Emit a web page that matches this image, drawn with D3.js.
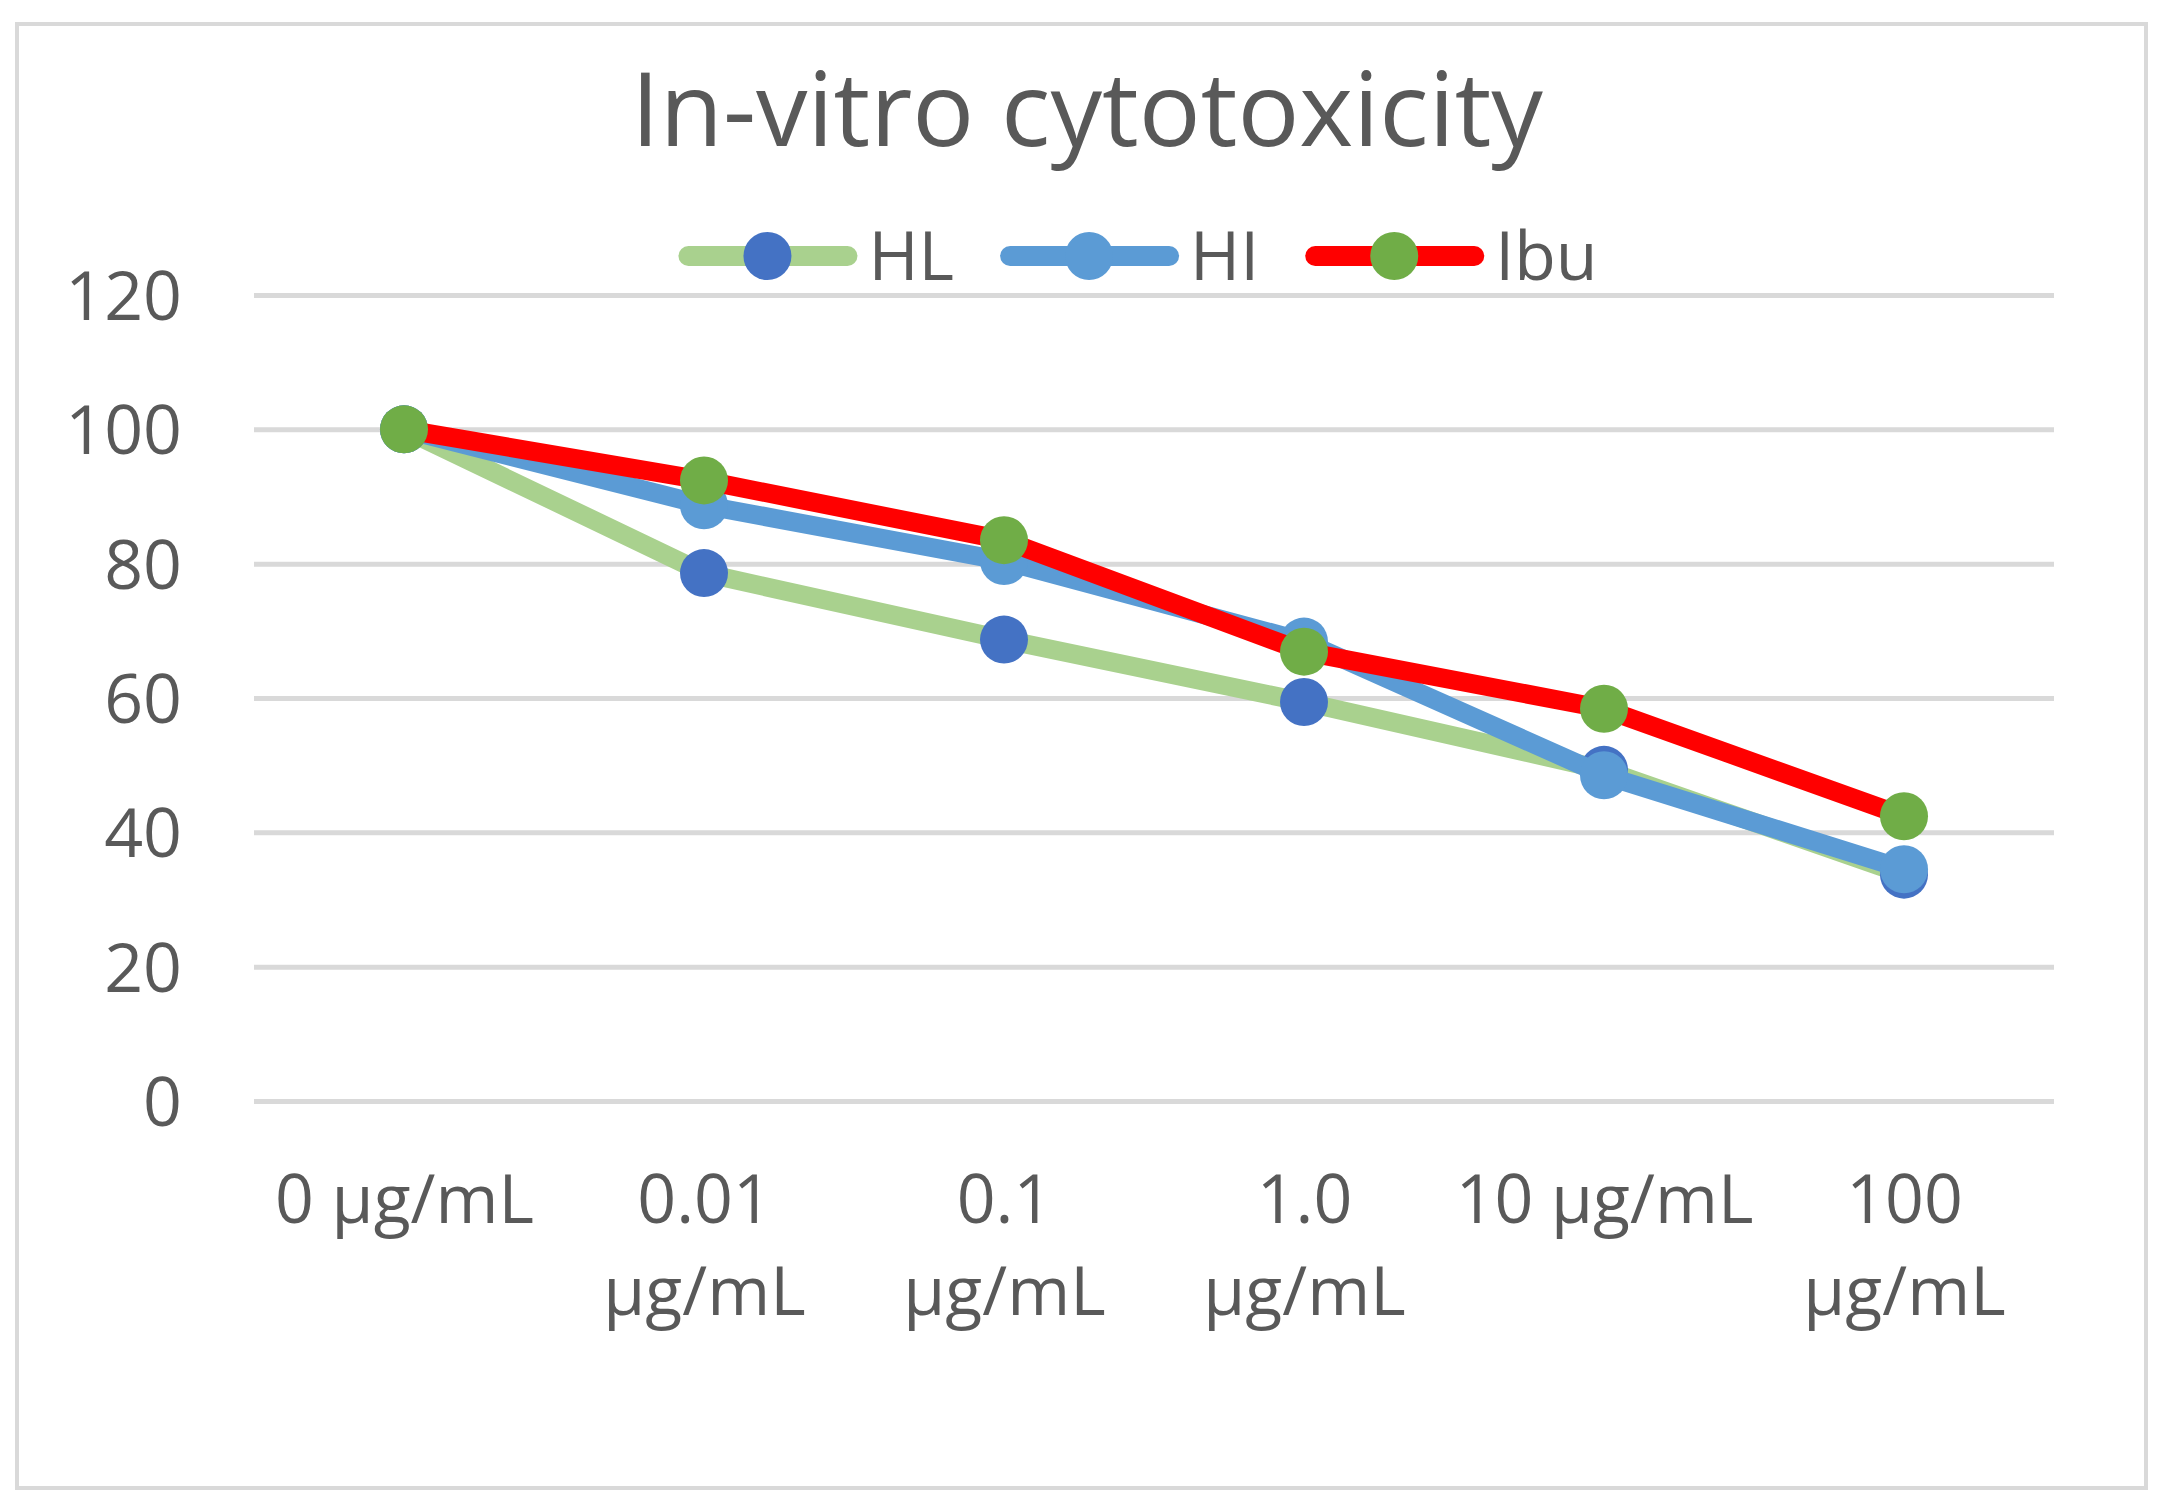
<!DOCTYPE html>
<html>
<head>
<meta charset="utf-8">
<script src="https://cdn.jsdelivr.net/npm/d3@7"></script>
<style>
  body { margin: 0; background: #fff; }
  text { font-family: "Open Sans", "Noto Sans", sans-serif; fill: #595959; }
</style>
</head>
<body>
<svg></svg>
<script>
var width = 2166
var height = 1507

// data
var categories = ["0 µg/mL", "0.01 µg/mL", "0.1 µg/mL", "1.0 µg/mL", "10 µg/mL", "100 µg/mL"]
var categoryLines = [["0 µg/mL"], ["0.01", "µg/mL"], ["0.1", "µg/mL"], ["1.0", "µg/mL"], ["10 µg/mL"], ["100", "µg/mL"]]
var hlValues = [100, 78.6, 68.7, 59.4, 49.3, 33.7]
var hiValues = [100, 88.7, 80.4, 68.4, 48.5, 34.5]
var ibuValues = [100, 92.4, 83.5, 66.9, 58.4, 42.4]
var yTicks = [0, 20, 40, 60, 80, 100, 120]

var series = [
  { name: "HL", values: hlValues, line: "#A9D18E", marker: "#4472C4" },
  { name: "HI", values: hiValues, line: "#5B9BD5", marker: "#5B9BD5" },
  { name: "Ibu", values: ibuValues, line: "#FF0000", marker: "#70AD47" }
]

var plotLeft = 254, plotRight = 2054, plotTop = 295, plotBottom = 1101
var lineW = 19
var r = 24

var svg = d3.select("svg")
  .attr("width", width)
  .attr("height", height)

svg.append("rect")
  .attr("x", 17).attr("y", 24)
  .attr("width", 2129).attr("height", 1464)
  .attr("fill", "#fff")
  .attr("stroke", "#d9d9d9")
  .attr("stroke-width", 4)

var x = d3.scalePoint()
  .domain(categories)
  .range([plotLeft, plotRight])
  .padding(0.5)

var y = d3.scaleLinear()
  .domain([0, 120])
  .range([plotBottom, plotTop])

// gridlines + y labels
var yAxis = d3.axisLeft(y)
  .tickValues(yTicks)
  .tickSize(-(plotRight - plotLeft))
  .tickPadding(72)

var gy = svg.append("g")
  .attr("transform", "translate(" + plotLeft + ",0)")
  .call(yAxis)
gy.select(".domain").remove()
gy.selectAll(".tick line")
  .attr("stroke", "#d9d9d9")
  .attr("stroke-width", 5)
gy.selectAll(".tick text")
  .attr("font-size", 68)
  .attr("dy", "0.36em")
  .style("fill", "#595959")
  .style("font-family", '"Open Sans", sans-serif')

// x labels
var xAxis = d3.axisBottom(x).tickSize(0).tickFormat("")
var gx = svg.append("g")
  .attr("transform", "translate(0," + plotBottom + ")")
  .call(xAxis)
gx.select(".domain").remove()
gx.selectAll(".tick").each(function (d, i) {
  var t = d3.select(this).append("text")
    .attr("text-anchor", "middle")
    .attr("font-size", 68)
    .style("fill", "#595959")
  t.selectAll("tspan")
    .data(categoryLines[i])
    .enter()
      .append("tspan")
      .attr("x", 0)
      .attr("y", (s, j) => 122 + j * 92)
      .text(s => s)
})

// series, drawn one after the other (line then markers)
var line = d3.line()
  .x((d, i) => x(categories[i]))
  .y(d => y(d))

series.forEach(s => {
  var g = svg.append("g")
  g.append("path")
    .datum(s.values)
    .attr("d", line)
    .attr("fill", "none")
    .attr("stroke", s.line)
    .attr("stroke-width", lineW)
    .attr("stroke-linejoin", "round")
    .attr("stroke-linecap", "round")
  g.selectAll("circle")
    .data(s.values)
    .enter()
      .append("circle")
      .attr("cx", (d, i) => x(categories[i]))
      .attr("cy", d => y(d))
      .attr("r", r)
      .attr("fill", s.marker)
})

// title
svg.append("text")
  .attr("x", 1087)
  .attr("y", 146)
  .attr("text-anchor", "middle")
  .attr("font-size", 103)
  .text("In-vitro cytotoxicity")

// legend
var legend = svg.append("g")
var legY = 256
var lx = 0
series.forEach(s => {
  var item = legend.append("g").attr("transform", "translate(" + lx + ",0)")
  item.append("line")
    .attr("x1", 10).attr("x2", 169)
    .attr("y1", legY).attr("y2", legY)
    .attr("stroke", s.line)
    .attr("stroke-width", 20)
    .attr("stroke-linecap", "round")
  item.append("circle")
    .attr("cx", 89).attr("cy", legY).attr("r", r)
    .attr("fill", s.marker)
  var t = item.append("text")
    .attr("x", 190)
    .attr("y", legY)
    .attr("dy", "0.36em")
    .attr("font-size", 68)
    .text(s.name)
  lx += 190 + t.node().getComputedTextLength() + 46
})
var legW = lx - 46
legend.attr("transform", "translate(" + (1138 - legW / 2) + ",0)")
</script>
</body>
</html>
